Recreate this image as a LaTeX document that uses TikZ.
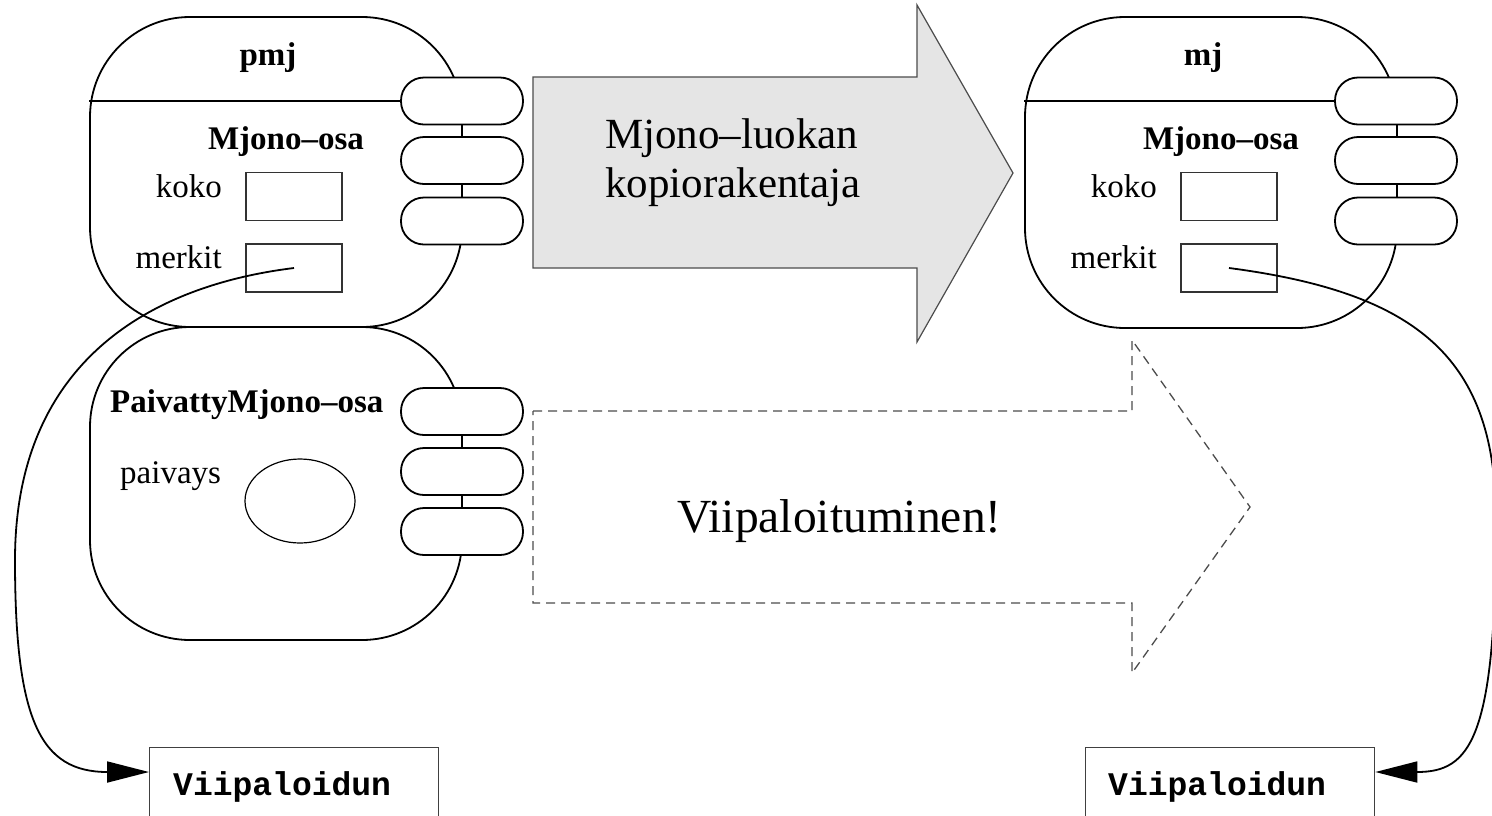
\documentclass[tikz,border=0pt]{standalone}
\usepackage{fontspec}
\setmainfont{Liberation Serif}
\setmonofont{Liberation Mono}
\usetikzlibrary{arrows.meta,shapes.geometric,calc}
\begin{document}
\begin{tikzpicture}[x=1pt,y=-1pt,
  blob/.style={draw, line width=1.8pt, rounded corners=100pt, minimum width=372pt, inner sep=0pt},
  capsule/.style={draw, fill=white, line width=1.8pt, rounded corners=23pt, minimum width=122pt, minimum height=47pt, inner sep=0pt},
  field/.style={draw=black!80, line width=1.2pt, minimum width=96pt, minimum height=48pt, inner sep=0pt},
  lbl/.style={font=\fontsize{33}{40}\selectfont, inner sep=0pt},
  blbl/.style={font=\fontsize{33}{40}\selectfont\bfseries, inner sep=0pt},
  mono/.style={font=\fontsize{33}{40}\selectfont\ttfamily\bfseries, inner sep=0pt},
  big/.style={font=\fontsize{43}{49}\selectfont, inner sep=0pt},
  outbox/.style={draw=black!75, line width=1.3pt, minimum width=289pt, minimum height=120pt, inner sep=0pt, anchor=north west},
  ptr/.style={line width=1.8pt, -{Triangle[length=42pt,width=21pt]}},
]
\clip (0,0) rectangle (1492,815);

% big grey arrow
\draw[fill=gray!20, draw=black!70, line width=1.2pt]
  (533,77) -- (917,77) -- (917,5) -- (1013,173) -- (917,342) -- (917,268) -- (533,268) -- cycle;
\node[big, anchor=base west] (cp1) at (605,148) {Mjono–luokan};
\node[big, anchor=base west] (cp2) at (605,197) {kopiorakentaja};

% dashed arrow
\draw[draw=black!70, line width=1.3pt, dash pattern=on 9pt off 6pt]
  (533,411) -- (1132,411) -- (1132,340) -- (1250,507) -- (1132,673) -- (1132,603) -- (533,603) -- cycle;
\node[font=\fontsize{47.5}{54}\selectfont, inner sep=0pt, anchor=base west] (vt) at (677,532) {Viipaloituminen!};

% blobs
\node[blob, minimum height=310pt] (pmj) at (276,172) {};
\node[blob, minimum height=313pt] (pvm) at (276,483.5) {};
\node[blob, minimum height=311pt] (mj) at (1211,172.5) {};

% capsules
\node[capsule] (a1) at (462,101) {};
\node[capsule] (a2) at (462,160.5) {};
\node[capsule] (a3) at (462,221) {};
\node[capsule] (b1) at (462,411.5) {};
\node[capsule] (b2) at (462,471.5) {};
\node[capsule] (b3) at (462,531.5) {};
\node[capsule] (c1) at (1396,101) {};
\node[capsule] (c2) at (1396,160.5) {};
\node[capsule] (c3) at (1396,221) {};

% dividers
\draw[line width=1.8pt] (pmj.west |- a1.west) -- (a1.west);
\draw[line width=1.8pt] (mj.west |- c1.west) -- (c1.west);

% left object texts
\node[blbl, anchor=base] (t1) at (268,65) {pmj};
\node[blbl, anchor=base] (t2) at (286,149) {Mjono–osa};
\node[lbl, anchor=base east] (t3) at (222,197) {koko};
\node[lbl, anchor=base east] (t4) at (222,268) {merkit};
\node[field] (kf) at (294,196.5) {};
\node[field] (mf) at (294,268) {};

\node[blbl, anchor=base west] (t5) at (110,412) {PaivattyMjono–osa};
\node[lbl, anchor=base west] (t6) at (120,483) {paivays};
\node[draw, ellipse, line width=1.2pt, minimum width=110pt, minimum height=84pt, inner sep=0pt] (pv) at (300,501) {};

% right object texts
\node[blbl, anchor=base] (r1) at (1203,65) {mj};
\node[blbl, anchor=base] (r2) at (1221,149) {Mjono–osa};
\node[lbl, anchor=base east] (r3) at (1157,197) {koko};
\node[lbl, anchor=base east] (r4) at (1157,268) {merkit};
\node[field] (kf2) at (1229,196.5) {};
\node[field] (mf2) at (1229,268) {};

% target boxes
\node[outbox] (vl) at (149,747) {};
\node[mono, anchor=base west] (vlt) at (173,795) {Viipaloidun};
\node[outbox] (vr) at (1085,747) {};
\node[mono, anchor=base west] (vrt) at (1108,795) {Viipaloidun};

% pointers
\coordinate (lmid) at (15,560);
\coordinate (rmid) at (1496,520);
\draw[ptr] (mf.center) .. controls (140,287) and (15,370) .. (lmid)
  .. controls (15,720) and (40,772) .. ($(vl.north west)+(0,25)$);
\draw[ptr] (mf2.center) .. controls (1420,293) and (1496,360) .. (rmid)
  .. controls (1496,740) and (1470,772) .. ($(vr.north east)+(0,25)$);
\end{tikzpicture}
\end{document}
